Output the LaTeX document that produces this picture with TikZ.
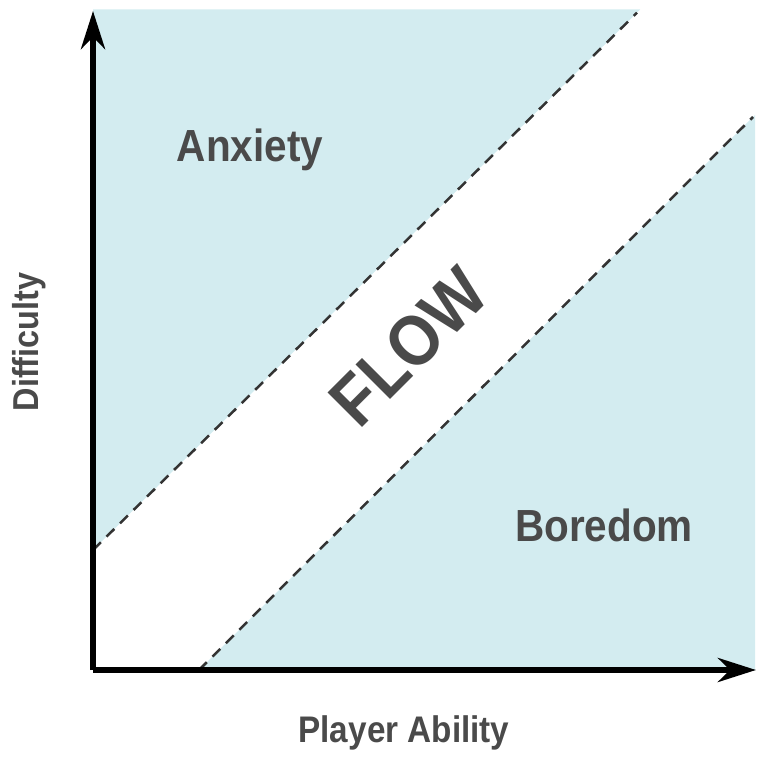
\documentclass[tikz,border=0pt]{standalone}
\usepackage{fontspec}
\setmainfont{Liberation Sans}
\usetikzlibrary{arrows.meta}
\definecolor{zoneblue}{HTML}{D3ECF0}
\definecolor{labelgray}{HTML}{4A4A4A}
\definecolor{dashgray}{HTML}{333333}
\tikzset{
  zone/.style={fill=zoneblue, draw=none},
  border/.style={draw=dashgray, line width=2.5pt, dash pattern=on 11pt off 8pt},
  axis/.style={draw=black, line width=6pt, -{Stealth[length=38pt,width=24pt,inset=12pt]}},
  lbl/.style={text=labelgray, inner sep=0pt, anchor=base, font=\bfseries}
}
\newcommand{\narrow}[1]{\scalebox{0.9}[1]{#1}}
\begin{document}
\begin{tikzpicture}[x=1pt,y=1pt]
\useasboundingbox (0,0) rectangle (766,761);
% zones
\coordinate (ua) at (93,211);
\coordinate (ub) at (637,748.3);
\coordinate (la) at (199,91);
\coordinate (lb) at (753,644);
\fill[zone] (ua) -- (93,751.5) -- (640.2,751.5) -- cycle;
\fill[zone] (la) -- (755,91) -- (755,646) -- cycle;
\draw[border] (ua) -- (ub);
\draw[border] (la) -- (lb);
% axes
\coordinate (o) at (93,91);
\coordinate (ytip) at (93,750);
\coordinate (xtip) at (756,91);
\draw[axis] (o) -- (ytip);
\draw[axis] (o) -- (xtip);
% labels
\node[lbl] (anx) at (250,599) {\fontsize{45}{50}\selectfont\narrow{Anxiety}};
\node[lbl] (bor) at (604,219) {\fontsize{45}{50}\selectfont\narrow{Boredom}};
\node[lbl] (pa) at (404,19) {\fontsize{37}{42}\selectfont\narrow{Player Ability}};
\node[lbl, rotate=90] (dif) at (38,419) {\fontsize{36}{40}\selectfont\narrow{Difficulty}};
\node[lbl, rotate=45] (flow) at (426,397) {\fontsize{71}{76}\selectfont\narrow{FLOW}};
\end{tikzpicture}
\end{document}
